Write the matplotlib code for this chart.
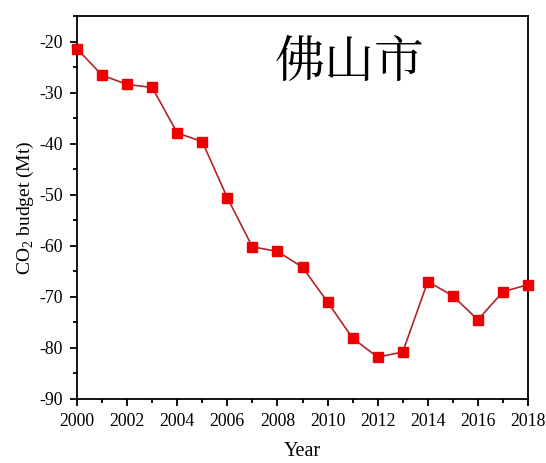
import matplotlib
matplotlib.use("Agg")
import matplotlib.pyplot as plt
from matplotlib.ticker import MultipleLocator

years = [2000, 2001, 2002, 2003, 2004, 2005, 2006, 2007, 2008, 2009,
         2010, 2011, 2012, 2013, 2014, 2015, 2016, 2017, 2018]
budget = [-21.4, -26.6, -28.4, -29.0, -37.9, -39.6, -50.6, -60.2, -61.1, -64.2,
          -71.0, -78.1, -81.8, -80.8, -67.0, -69.8, -74.5, -69.0, -67.6]
title_text = "佛山市"

plt.rcParams['font.family'] = ['Liberation Serif', 'DejaVu Serif']
plt.rcParams['mathtext.fontset'] = 'custom'
plt.rcParams['mathtext.rm'] = 'Liberation Serif'
plt.rcParams['axes.unicode_minus'] = False

fig = plt.figure(figsize=(5.46, 4.63), dpi=100)
ax = fig.add_axes([77/546, 1 - 399/463, (528-77)/546, (399-16)/463])

ax.plot(years, budget, color='#b02428', lw=1.2, marker='s', markersize=6.5,
        markerfacecolor='#ee0000', markeredgecolor='#ee0000', clip_on=False, zorder=3)

ax.set_xlim(2000, 2018)
ax.set_ylim(-90, -15)
ax.xaxis.set_major_locator(MultipleLocator(2))
ax.xaxis.set_minor_locator(MultipleLocator(1))
ax.yaxis.set_major_locator(MultipleLocator(10))
ax.yaxis.set_minor_locator(MultipleLocator(5))
ax.tick_params(which='both', direction='out', top=False, right=False, labelsize=12.8, width=1.3)
ax.tick_params(which='major', length=5, pad=5)
ax.tick_params(which='minor', length=3)
for s in ax.spines.values():
    s.set_linewidth(1.3)

ax.set_xlabel("Year", fontsize=14.5)
ax.set_ylabel("CO$_2$ budget (Mt)", fontsize=14)
ax.xaxis.set_label_coords(0.5, (399 - 442) / 383)
ax.yaxis.set_label_coords((36 - 77) / 451, 0.5)

ax.text(0.605, 0.877, title_text, transform=ax.transAxes, fontsize=36,
        family=['Noto Serif CJK SC', 'Noto Sans CJK SC'], ha='center', va='center')

fig.savefig("out.png", dpi=100)
